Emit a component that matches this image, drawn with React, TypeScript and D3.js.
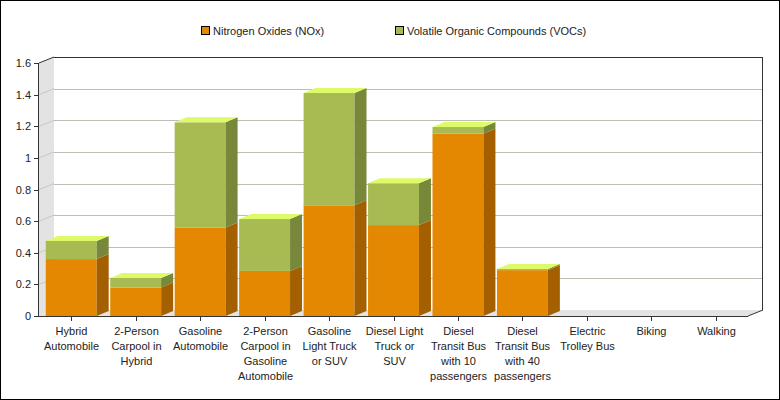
import React from "react";
import * as d3 from "d3";

// Emissions per passenger-mile by mode of transport
const categories = [
  "Hybrid\nAutomobile",
  "2-Person\nCarpool in\nHybrid",
  "Gasoline\nAutomobile",
  "2-Person\nCarpool in\nGasoline\nAutomobile",
  "Gasoline\nLight Truck\nor SUV",
  "Diesel Light\nTruck or\nSUV",
  "Diesel\nTransit Bus\nwith 10\npassengers",
  "Diesel\nTransit Bus\nwith 40\npassengers",
  "Electric\nTrolley Bus",
  "Biking",
  "Walking",
];
const noxValues = [0.36, 0.18, 0.56, 0.285, 0.7, 0.575, 1.153, 0.29, 0, 0, 0];
const vocValues = [0.115, 0.06, 0.665, 0.328, 0.71, 0.265, 0.042, 0.008, 0, 0, 0];
const seriesNames = ["Nitrogen Oxides (NOx)", "Volatile Organic Compounds (VOCs)"];
const yTicks = [0, 0.2, 0.4, 0.6, 0.8, 1, 1.2, 1.4, 1.6];

const W = 780;
const H = 400;
const FONT = "Liberation Sans, Arial, sans-serif";

const colors = [
  { front: "#E38800", side: "#A35F00", top: "#F5B040" },
  { front: "#A8BB52", side: "#78883A", top: "#DDFA68" },
];

export default function App() {
  const left = 39;
  const right = 748;
  const bottom = 316;
  const topY = 63;
  const wallDx = 15;
  const wallDy = 6;
  const barDx = 12;
  const barDy = 5;

  const x = d3.scaleBand<string>().domain(categories).range([left, right]).padding(0);
  const y = d3.scaleLinear().domain([0, 1.6]).range([bottom, topY]);
  const barW = x.step() * 0.79;

  const rows = categories.map((c, i) => ({ cat: c, nox: noxValues[i], voc: vocValues[i] }));
  const stacked = d3.stack<any>().keys(["nox", "voc"])(rows);

  const pts = (a: number[][]) => a.map((p) => p.join(",")).join(" ");

  return (
    <div style={{ position: "absolute", left: 0, top: 0 }}>
      <svg width={W} height={H} style={{ display: "block", fontFamily: FONT }}>
        <rect x={0} y={0} width={W} height={H} fill="#fff" />

        {/* legend */}
        {seriesNames.map((name, i) => {
          const lx = i === 0 ? 201 : 395;
          return (
            <g key={name}>
              <rect x={lx + 0.5} y={26.5} width={8} height={8} fill={colors[i].front} stroke="#000" />
              <text x={lx + 12} y={35} fontSize={11} fill="#222">
                {name}
              </text>
            </g>
          );
        })}

        {/* left wall and floor */}
        <polygon
          points={pts([
            [left, topY],
            [left + wallDx, topY - wallDy],
            [left + wallDx, bottom - wallDy],
            [left, bottom],
          ])}
          fill="#E3E3E3"
        />
        <polygon
          points={pts([
            [left, bottom],
            [left + wallDx, bottom - wallDy],
            [right + wallDx, bottom - wallDy],
            [right, bottom],
          ])}
          fill="#E3E3E3"
        />

        {/* gridlines */}
        {yTicks.slice(1, -1).map((t) => (
          <g key={t}>
            <line
              x1={left + wallDx}
              x2={right + wallDx}
              y1={Math.round(y(t) - wallDy) + 0.5}
              y2={Math.round(y(t) - wallDy) + 0.5}
              stroke="#BDBDB3"
            />
            <line
              x1={left}
              x2={left + wallDx}
              y1={y(t)}
              y2={y(t) - wallDy}
              stroke="#C8C8C0"
            />
          </g>
        ))}

        {/* frame */}
        <line x1={left + wallDx} x2={right + wallDx} y1={topY - wallDy + 0.5} y2={topY - wallDy + 0.5} stroke="#333" />
        <line x1={right + wallDx - 0.5} x2={right + wallDx - 0.5} y1={topY - wallDy} y2={bottom - wallDy} stroke="#333" />
        <line x1={left} x2={left + wallDx} y1={topY} y2={topY - wallDy} stroke="#333" />
        <line x1={right} x2={right + wallDx} y1={bottom} y2={bottom - wallDy} stroke="#333" />

        {/* bars */}
        {categories.map((c, i) => {
          const bx = (x(c) as number) + (x.step() - barW) / 2;
          const segs = stacked.map((s) => s[i]);
          const topIdx = segs.reduce((acc, d, k) => (d[1] - d[0] > 0 ? k : acc), -1);
          return (
            <g key={c}>
              {segs.map((d, k) => {
                if (d[1] - d[0] <= 0) return null;
                const y0 = y(d[0]);
                const y1 = y(d[1]);
                const col = colors[k];
                return (
                  <g key={k}>
                    <rect x={bx} y={y1} width={barW} height={y0 - y1} fill={col.front} />
                    <polygon
                      points={pts([
                        [bx + barW, y1],
                        [bx + barW + barDx, y1 - barDy],
                        [bx + barW + barDx, y0 - barDy],
                        [bx + barW, y0],
                      ])}
                      fill={col.side}
                    />
                    {k === topIdx && (
                      <polygon
                        points={pts([
                          [bx, y1],
                          [bx + barDx, y1 - barDy],
                          [bx + barW + barDx, y1 - barDy],
                          [bx + barW, y1],
                        ])}
                        fill={col.top}
                      />
                    )}
                  </g>
                );
              })}
            </g>
          );
        })}

        {/* axes */}
        <line x1={left - 0.5} x2={left - 0.5} y1={topY} y2={bottom} stroke="#333" />
        <line x1={left - 5} x2={right} y1={bottom + 0.5} y2={bottom + 0.5} stroke="#333" />
        {yTicks.map((t) => (
          <g key={t}>
            <line x1={left - 5} x2={left} y1={Math.round(y(t)) + 0.5} y2={Math.round(y(t)) + 0.5} stroke="#333" />
            <text x={31} y={y(t) + 4} fontSize={11} textAnchor="end" fill="#222">
              {d3.format("~g")(t)}
            </text>
          </g>
        ))}
        {categories.map((c) => {
          const cx = Math.round((x(c) as number) + x.step() / 2) + 0.5;
          return (
            <g key={c}>
              <line x1={cx} x2={cx} y1={bottom} y2={bottom + 5} stroke="#333" />
              {c.split("\n").map((line, j) => (
                <text key={j} x={cx} y={335 + j * 15} fontSize={11} textAnchor="middle" fill="#222">
                  {line}
                </text>
              ))}
            </g>
          );
        })}

        {/* outer border */}
        <rect x={0.5} y={0.5} width={W - 1} height={H - 1} fill="none" stroke="#000" />
      </svg>
    </div>
  );
}
